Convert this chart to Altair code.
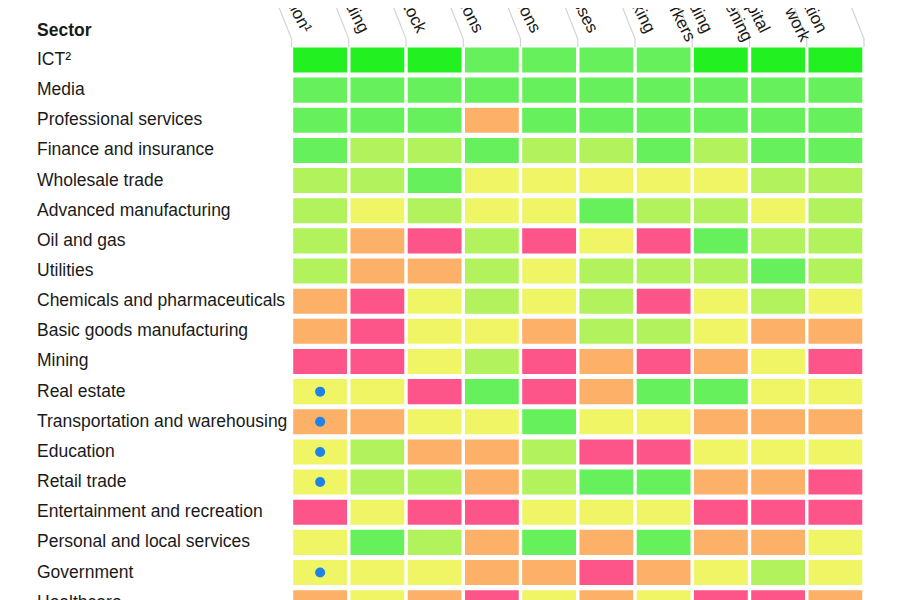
import altair as alt
import pandas as pd

# ---- data ----
sectors = [
    "ICT²", "Media", "Professional services", "Finance and insurance",
    "Wholesale trade", "Advanced manufacturing", "Oil and gas", "Utilities",
    "Chemicals and pharmaceuticals", "Basic goods manufacturing", "Mining",
    "Real estate", "Transportation and warehousing", "Education",
    "Retail trade", "Entertainment and recreation",
    "Personal and local services", "Government", "Healthcare",
]

columns = [
    "Overall digitization¹", "Digital spending", "Digital asset stock",
    "Transactions", "Interactions", "Business processes", "Market making",
    "Digital spending|on workers", "Digital capital|deepening",
    "Digitization|of work",
]

# 5 = highest digitization (bright green) ... 0 = lowest (pink)
levels = [
    [5, 5, 5, 4, 4, 4, 4, 5, 5, 5],
    [4, 4, 4, 4, 4, 4, 4, 4, 4, 4],
    [4, 4, 4, 1, 4, 4, 4, 4, 4, 4],
    [4, 3, 3, 4, 3, 3, 4, 3, 4, 4],
    [3, 3, 4, 2, 2, 2, 2, 2, 3, 3],
    [3, 2, 3, 2, 2, 4, 3, 3, 2, 3],
    [3, 1, 0, 3, 0, 2, 0, 4, 3, 3],
    [3, 1, 1, 3, 2, 3, 3, 3, 4, 3],
    [1, 0, 2, 3, 2, 3, 0, 2, 3, 2],
    [1, 0, 2, 2, 1, 3, 3, 2, 1, 1],
    [0, 0, 2, 3, 0, 1, 0, 1, 2, 0],
    [2, 2, 0, 4, 0, 1, 4, 4, 2, 2],
    [1, 1, 2, 2, 4, 2, 2, 1, 1, 1],
    [2, 3, 1, 1, 3, 0, 0, 2, 2, 2],
    [2, 3, 3, 1, 3, 4, 4, 1, 1, 0],
    [0, 2, 0, 0, 2, 2, 2, 0, 0, 0],
    [2, 4, 3, 1, 4, 1, 4, 1, 1, 2],
    [2, 2, 2, 1, 1, 0, 1, 2, 3, 2],
    [1, 2, 1, 0, 2, 1, 2, 0, 0, 1],
]

dotted = ["Real estate", "Transportation and warehousing", "Education",
          "Retail trade", "Government"]

level_values = [0, 1, 2, 3, 4, 5]
level_colors = ["#fd5589", "#fcb068", "#f0f566", "#b2f25c", "#66f05c", "#22f020"]

# ---- tables ----
cells = pd.DataFrame(
    [{"sector": s, "ci": j, "level": v}
     for s, row in zip(sectors, levels) for j, v in enumerate(row)]
)
heads = pd.DataFrame({"ci": list(range(len(columns))), "label": columns})
bounds = pd.DataFrame({"k": list(range(len(columns) + 1))})
dots = pd.DataFrame({"sector": dotted, "ci": [0] * len(dotted)})

FONT = "Liberation Sans"
TXT = "#1a1a1a"

xscale = alt.Scale(domain=[0, len(columns)], nice=False, zero=False)
yscale = alt.Scale(domain=sectors, paddingInner=0.17)

yaxis = alt.Axis(
    title="Sector", titleAngle=0, titleAlign="left", titleBaseline="middle",
    titleX=-255, titleY=-14, titleFontSize=17.5, titleFontWeight="bold",
    titleFont=FONT, titleColor=TXT,
    labelAlign="left", labelPadding=255, labelFontSize=17.5, labelFont=FONT,
    labelColor=TXT, labelLimit=320, ticks=False, tickSize=0, domain=False,
    grid=False,
)

rects = alt.Chart(cells).transform_calculate(
    x0="datum.ci + 0.03", x1="datum.ci + 0.97"
).mark_rect().encode(
    x=alt.X("x0:Q", scale=xscale, axis=None),
    x2="x1:Q",
    y=alt.Y("sector:N", scale=yscale, sort=sectors, axis=yaxis),
    color=alt.Color("level:O",
                    scale=alt.Scale(domain=level_values, range=level_colors),
                    legend=None),
)

dot_layer = alt.Chart(dots).transform_calculate(
    xc="datum.ci + 0.5"
).mark_circle(size=100, color="#1e82e6", opacity=1).encode(
    x=alt.X("xc:Q", scale=xscale, axis=None),
    y=alt.Y("sector:N", scale=yscale, sort=sectors, axis=yaxis),
)

head = alt.Chart(heads).transform_calculate(
    xc="datum.ci + 0.27"
).mark_text(
    angle=63, align="right", baseline="middle", fontSize=17, font=FONT,
    color=TXT, lineBreak="|", lineHeight=19,
).encode(
    x=alt.X("xc:Q", scale=xscale, axis=None),
    y=alt.value(-13),
    text="label:N",
)

vert = alt.Chart(bounds).mark_rule(color="#d3d3d3", strokeWidth=1.2).encode(
    x=alt.X("k:Q", scale=xscale, axis=None),
    y=alt.value(-6),
    y2=alt.value(2),
)

diag = alt.Chart(bounds).transform_calculate(
    k2="datum.k - 0.29"
).mark_rule(color="#d3d3d3", strokeWidth=1.2).encode(
    x=alt.X("k:Q", scale=xscale, axis=None),
    x2="k2:Q",
    y=alt.value(-6),
    y2=alt.value(-48),
)

chart = alt.layer(diag, vert, rects, head, dot_layer).properties(
    width=572.5,
    height=572.85,
    autosize=alt.AutoSizeParams(type="none"),
    padding={"left": 283.5, "top": 36.9, "right": 20, "bottom": 0},
    background="white",
).configure_view(stroke=None)

chart.save("out.html", embed_options={"renderer": "svg", "actions": False})
